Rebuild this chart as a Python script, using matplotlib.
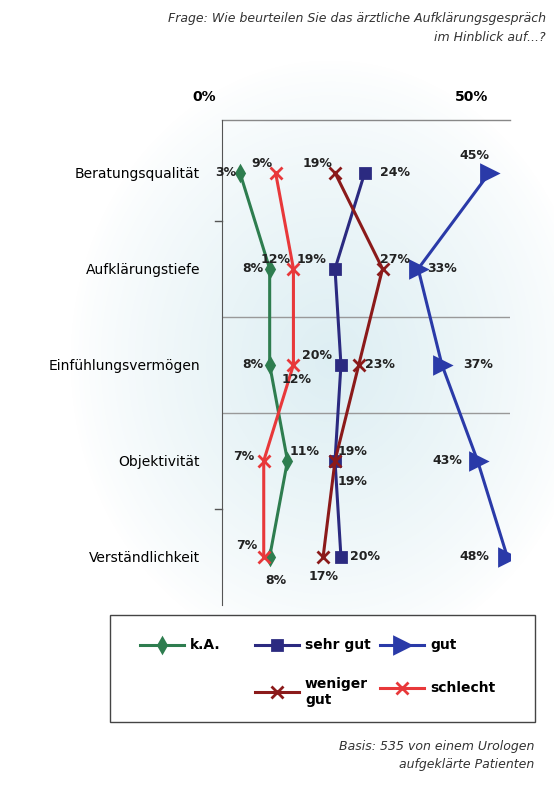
import matplotlib
matplotlib.use("Agg")
import matplotlib.pyplot as plt
import numpy as np
from matplotlib.patches import Rectangle

categories = ["Beratungsqualität", "Aufklärungstiefe", "Einfühlungsvermögen", "Objektivität", "Verständlichkeit"]
ka = [3, 8, 8, 11, 8]
sehr_gut = [24, 19, 20, 19, 20]
gut = [45, 33, 37, 43, 48]
weniger_gut = [19, 27, 23, 19, 17]
schlecht = [9, 12, 12, 7, 7]

fig = plt.figure(figsize=(5.54, 8), dpi=100)
bg = fig.add_axes([0, 0, 1, 1], zorder=-10)
yy, xx = np.mgrid[0:800, 0:554]
d = np.sqrt(((xx - 330) / 260.0) ** 2 + ((yy - 360) / 300.0) ** 2)
w = np.clip(1 - d, 0, 1) ** 0.8
img = np.ones((800, 554, 3))
tint = np.array([0.78, 0.89, 0.92])
img = img * (1 - w[..., None] * 0.6) + tint * (w[..., None] * 0.6)
bg.imshow(img, aspect="auto", extent=[0, 554, 800, 0])
bg.set_xlim(0, 554); bg.set_ylim(800, 0); bg.axis("off")

ax = fig.add_axes([0.401, 0.244, 0.52, 0.606])
ax.set_facecolor("none")
y = np.arange(len(categories))
ax.set_xlim(0, 48.5)
ax.set_ylim(4.5, -0.55)
for s in ["top", "right", "bottom"]:
    ax.spines[s].set_visible(False)
ax.spines["left"].set_color("#555555")
ax.set_xticks([])
ax.set_yticks(y)
ax.set_yticklabels(categories, fontsize=10)
ax.tick_params(axis="y", length=0, pad=16)
for b in [1.5, 2.5]:
    ax.axhline(b, color="#999999", lw=1)
for b in [0.5, 3.5]:
    ax.plot([-1.2, 0], [b, b], color="#555555", lw=1, clip_on=False)
ax.plot([0, 48.5], [-0.55, -0.55], color="#888888", lw=1, clip_on=False)
ax.text(-3, -0.72, "0%", ha="center", va="bottom", fontsize=10, fontweight="bold")
ax.text(42, -0.72, "50%", ha="center", va="bottom", fontsize=10, fontweight="bold")

series = [
    ("k.A.", ka, "#2e7d4f", "d", 7),
    ("sehr gut", sehr_gut, "#2b2a80", "s", 7),
    ("gut", gut, "#2a3aa8", ">", 11),
    ("weniger gut", weniger_gut, "#8b1a1a", "x", 8),
    ("schlecht", schlecht, "#e8383a", "x", 8),
]
lines = {}
for name, vals, c, m, ms in series:
    ln, = ax.plot(vals, y, color=c, lw=2.2, marker=m, ms=ms, mew=2, label=name)
    lines[name] = ln

offs = {
    "k.A.": [(-0.6, 0, "right"), (-1, 0, "right"), (-1, 0, "right"), (0.3, -0.1, "left"), (1, 0.25, "center")],
    "sehr gut": [(2.5, 0, "left"), (-1.5, -0.1, "right"), (-1.5, -0.1, "right"), (0.5, -0.1, "left"), (1.5, 0, "left")],
    "gut": [(0, -0.18, "right"), (1.5, 0, "left"), (3.5, 0, "left"), (-2.5, 0, "right"), (-3, 0, "right")],
    "weniger gut": [(-0.5, -0.1, "right"), (-0.5, -0.1, "left"), (1, 0, "left"), (0.5, 0.22, "left"), (0, 0.2, "center")],
    "schlecht": [(-0.5, -0.1, "right"), (-0.5, -0.1, "right"), (0.5, 0.15, "center"), (-1.5, -0.05, "right"), (-1, -0.12, "right")],
}
for name, vals, c, m, ms in series:
    for i, v in enumerate(vals):
        dx, dy, ha = offs[name][i]
        ax.text(v + dx, i + dy, f"{v}%", ha=ha, va="center", fontsize=9, fontweight="bold", color="#222222")

fig.text(0.985, 0.985, "Frage: Wie beurteilen Sie das ärztliche Aufklärungsgespräch\nim Hinblick auf...?",
         ha="right", va="top", fontsize=9, style="italic", color="#333333", linespacing=1.6)
fig.text(0.965, 0.075, "Basis: 535 von einem Urologen\naufgeklärte Patienten",
         ha="right", va="top", fontsize=9, style="italic", color="#333333", linespacing=1.5)

fig.patches.append(Rectangle((110/554, 1-722/800), 425/554, 107/800, transform=fig.transFigure,
                             facecolor="white", edgecolor="#444444", lw=1))
def leg_item(x0, yc, name, label):
    ln = lines[name]
    fig.lines.append(plt.Line2D([x0/554, (x0+22)/554, (x0+44)/554], [1-yc/800]*3, transform=fig.transFigure,
                                color=ln.get_color(), lw=2.2, marker=ln.get_marker(), ms=ln.get_markersize(),
                                mew=2, markevery=[1]))
    fig.text((x0+50)/554, 1-yc/800, label, ha="left", va="center", fontsize=10, fontweight="bold")
leg_item(140, 645, "k.A.", "k.A.")
leg_item(255, 645, "sehr gut", "sehr gut")
leg_item(380, 645, "gut", "gut")
leg_item(255, 692, "weniger gut", "weniger\ngut")
leg_item(380, 688, "schlecht", "schlecht")

fig.savefig("out.png", dpi=100)
